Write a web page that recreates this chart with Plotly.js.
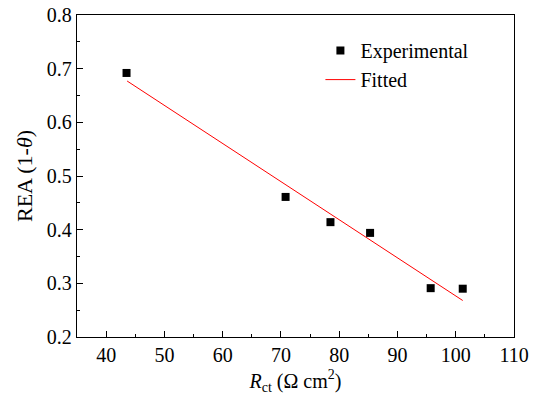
<!DOCTYPE html>
<html>
<head>
<meta charset="utf-8">
<script src="https://cdn.plot.ly/plotly-3.0.1.min.js"></script>
<style>html,body{margin:0;padding:0;background:#fff;}#chart{width:538px;height:399px;}</style>
</head>
<body>
<div id="chart"></div>
<script>
const rct = [43.5, 70.8, 78.5, 85.3, 95.7, 101.2];
const rea = [0.692, 0.461, 0.414, 0.394, 0.291, 0.290];
const fitX = [43.6, 101.2];
const fitY = [0.677, 0.268];
const xTicks = [40, 50, 60, 70, 80, 90, 100, 110];
const yTicks = [0.2, 0.3, 0.4, 0.5, 0.6, 0.7, 0.8];

function F(size) { return {family: 'Liberation Serif', color: '#000', size: size || 20}; }

const traces = [
  {x: rct, y: rea, mode: 'markers', type: 'scatter', name: 'Experimental',
   marker: {symbol: 'square', size: 8, color: '#000'}},
  {x: fitX, y: fitY, mode: 'lines', type: 'scatter', name: 'Fitted',
   line: {color: '#ff0000', width: 1}}
];

function axis(extra) {
  return Object.assign({
    showgrid: false, zeroline: false, showline: true, linecolor: '#000', linewidth: 1.2,
    mirror: true, ticks: 'inside', ticklen: 6, tickwidth: 1, tickcolor: '#000',
    tickfont: F(20)
  }, extra);
}

const layout = {
  width: 538, height: 399,
  margin: {l: 77, r: 24, t: 15, b: 62},
  paper_bgcolor: '#fff', plot_bgcolor: '#fff',
  font: F(20),
  showlegend: true,
  legend: {x: 0.557, y: 0.95, xanchor: 'left', yanchor: 'top', bgcolor: 'rgba(0,0,0,0)',
           font: F(20), tracegroupgap: 0},
  xaxis: axis({
    range: [35, 110], tickmode: 'array', tickvals: xTicks, ticktext: xTicks.map(String),
    minor: {dtick: 5, tick0: 35, ticks: 'inside', ticklen: 3, tickcolor: '#000'},
    title: {text: '<i>R</i><sub>ct</sub> (Ω cm<sup>2</sup>)', font: F(20), standoff: 8}
  }),
  yaxis: axis({
    range: [0.2, 0.8], tickmode: 'array', tickvals: yTicks, ticktext: yTicks.map(v => v.toFixed(1)),
    minor: {dtick: 0.05, tick0: 0.2, ticks: 'inside', ticklen: 3, tickcolor: '#000'},
    title: {text: 'REA (1-<i>θ</i>)', font: F(22), standoff: 8}
  })
};

Plotly.newPlot('chart', traces, layout, {displayModeBar: false, staticPlot: true});
</script>
</body>
</html>
